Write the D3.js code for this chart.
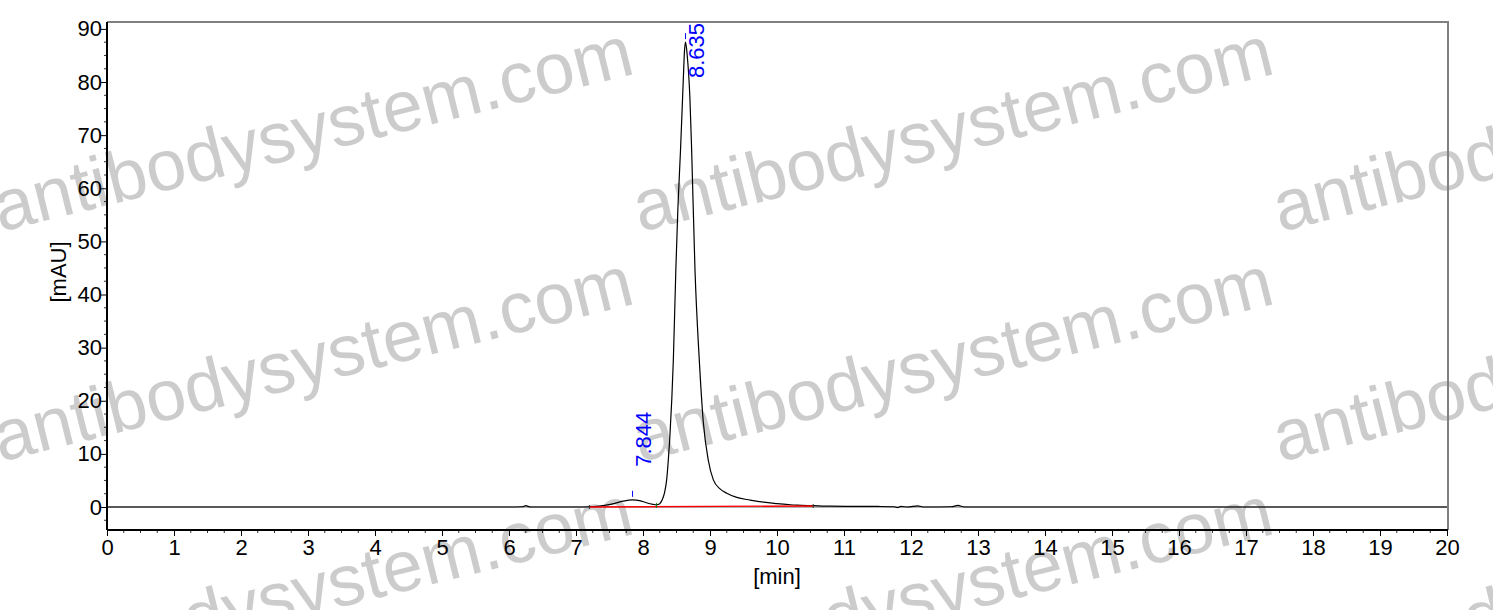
<!DOCTYPE html>
<html>
<head>
<meta charset="utf-8">
<script src="https://cdn.jsdelivr.net/npm/d3@7"></script>
<style>
  body { margin: 0; background: #fff; }
  svg { display: block; font-family: Arial, "Liberation Sans", sans-serif; }
</style>
</head>
<body>
<svg width="1493" height="610"></svg>
<script>
// chromatogram trace: time [min], signal [mAU]
var times = [0, 6.0, 6.2, 6.25, 6.32, 7.0, 7.2, 7.4, 7.55, 7.7, 7.844, 7.95, 8.05, 8.15, 8.2,
             8.25, 8.28, 8.32, 8.353, 8.378, 8.40, 8.453, 8.49, 8.52, 8.56, 8.60, 8.62, 8.635,
             8.66, 8.70, 8.726, 8.776, 8.84, 8.90, 8.974, 9.05, 9.15, 9.25, 9.4, 9.6, 9.8, 10.0,
             10.14, 10.3, 10.54, 10.8, 11.5, 11.75, 11.8, 11.85, 11.95, 12.1, 12.2, 12.6, 12.7, 12.8, 13.0, 20];
var signal = [0, 0, 0.05, 0.25, 0, 0, 0.05, 0.25, 0.6, 1.1, 1.35, 1.2, 0.8, 0.5, 0.4,
              0.6, 1.2, 2.6, 5.1, 8.85, 13, 27.7, 44.6, 56, 67.2, 80, 86, 87.5,
              85, 77, 67.2, 44.6, 27.7, 16, 8.85, 5.1, 3.4, 2.6, 1.8, 1.3, 0.9, 0.65,
              0.5, 0.35, 0.25, 0.15, 0.1, 0.05, -0.12, 0.1, 0, 0.2, 0, 0.05, 0.3, 0, 0, 0];

// integration baseline (start, end)
var baseT = [7.2, 10.54];
var baseV = [0.0, 0.2];

// labelled peaks
var peakT = [7.844, 8.635];
var peakV = [1.35, 87.5];
var peakLabels = ["7.844", "8.635"];

var xTicks = d3.range(0, 21, 1);
var yTicks = d3.range(0, 91, 10);

var svg = d3.select("svg");
var pLeft = 107, pRight = 1447, pTop = 22, pBottom = 530;

var x = d3.scaleLinear().domain([0, 20]).range([pLeft, pRight]);
var y = d3.scaleLinear().domain([-4.33, 91.3]).range([pBottom, pTop]);

// watermark
var wm = svg.append("g");
for (var r = 0; r < 3; r++) {
  for (var c = 0; c < 3; c++) {
    var wx = c * 640, wy = 232 + r * 230;
    wm.append("text")
      .attr("transform", "translate(" + wx + "," + wy + ") rotate(-14)")
      .attr("font-size", 72)
      .attr("fill", "#cccccc")
      .text("antibodysystem.com");
  }
}

// zero line
svg.append("line")
  .attr("x1", pLeft).attr("x2", pRight)
  .attr("y1", y(0)).attr("y2", y(0))
  .attr("stroke", "#666").attr("stroke-width", 1.2);

// frame top / right
svg.append("path")
  .attr("d", "M" + pLeft + "," + pTop + "H" + (pRight + 1) + "V" + pBottom)
  .attr("fill", "none").attr("stroke", "#808080").attr("stroke-width", 2);

// trace
var pts = times.map(function(t, i) { return [t, signal[i]]; });
var line = d3.line().x(d => x(d[0])).y(d => y(d[1])).curve(d3.curveMonotoneX);
svg.append("path")
  .datum(pts)
  .attr("d", line)
  .attr("fill", "none").attr("stroke", "#000").attr("stroke-width", 1.2);

// red baseline
svg.append("line")
  .attr("x1", x(baseT[0])).attr("x2", x(baseT[1]))
  .attr("y1", y(baseV[0])).attr("y2", y(baseV[1]))
  .attr("stroke", "#ff0000").attr("stroke-width", 1.4);

// markers at baseline ends and valley
svg.selectAll(".bm")
  .data(baseT)
  .join("line")
  .attr("x1", d => x(d)).attr("x2", d => x(d))
  .attr("y1", (d, i) => y(baseV[i]) - 2).attr("y2", (d, i) => y(baseV[i]) + 2)
  .attr("stroke", "#333").attr("stroke-width", 1);
svg.append("line")
  .attr("x1", x(8.2)).attr("x2", x(8.2))
  .attr("y1", y(0.4) - 2).attr("y2", y(0.4) + 3)
  .attr("stroke", "#008000").attr("stroke-width", 1);

// peak ticks and labels
svg.selectAll(".pk")
  .data(peakT)
  .join("line")
  .attr("x1", d => x(d)).attr("x2", d => x(d))
  .attr("y1", (d, i) => y(peakV[i]) - 9).attr("y2", (d, i) => y(peakV[i]) - 3)
  .attr("stroke", "#0000ff").attr("stroke-width", 1);

svg.selectAll(".pl")
  .data(peakT)
  .join("text")
  .attr("transform", function(d, i) {
    var ty = Math.max(y(peakV[i]) - 33, pTop + 56);
    return "translate(" + (x(d) + 18) + "," + ty + ") rotate(-90)";
  })
  .attr("font-size", 22)
  .attr("fill", "#0000ff")
  .text((d, i) => peakLabels[i]);

// axes
var xAxis = svg.append("g")
  .attr("transform", "translate(0," + pBottom + ")")
  .call(d3.axisBottom(x).tickValues(xTicks).tickSize(6).tickFormat(d3.format("d")));
var yAxis = svg.append("g")
  .attr("transform", "translate(" + pLeft + ",0)")
  .call(d3.axisLeft(y).tickValues(yTicks).tickSize(6).tickFormat(d3.format("d")));

[xAxis, yAxis].forEach(function(g) {
  g.select(".domain").attr("stroke", "#000").attr("stroke-width", 2);
  g.selectAll(".tick line").attr("stroke", "#000");
  g.selectAll(".tick text").attr("font-size", 22).attr("font-family", "Arial, 'Liberation Sans', sans-serif").attr("fill", "#000");
});
xAxis.select(".domain").attr("d", "M" + pLeft + ",0H" + (pRight + 1));
yAxis.select(".domain").attr("d", "M0," + pTop + "V" + pBottom);
yAxis.selectAll(".tick text").attr("x", -5);

// minor ticks
var xMinor = d3.range(0, 20.001, 0.25).filter(d => d % 1 !== 0);
svg.selectAll(".xm")
  .data(xMinor)
  .join("line")
  .attr("x1", d => x(d)).attr("x2", d => x(d))
  .attr("y1", pBottom).attr("y2", pBottom + 3)
  .attr("stroke", "#000").attr("stroke-width", 0.8);
var yMinor = d3.range(-2.5, 91, 2.5).filter(d => d % 10 !== 0);
svg.selectAll(".ym")
  .data(yMinor)
  .join("line")
  .attr("x1", pLeft - 3).attr("x2", pLeft)
  .attr("y1", d => y(d)).attr("y2", d => y(d))
  .attr("stroke", "#000").attr("stroke-width", 0.8);

// axis titles
svg.append("text")
  .attr("x", (pLeft + pRight) / 2).attr("y", 584)
  .attr("text-anchor", "middle")
  .attr("font-size", 22)
  .text("[min]");
svg.append("text")
  .attr("transform", "translate(66," + 272 + ") rotate(-90)")
  .attr("text-anchor", "middle")
  .attr("font-size", 22)
  .text("[mAU]");
</script>
</body>
</html>
